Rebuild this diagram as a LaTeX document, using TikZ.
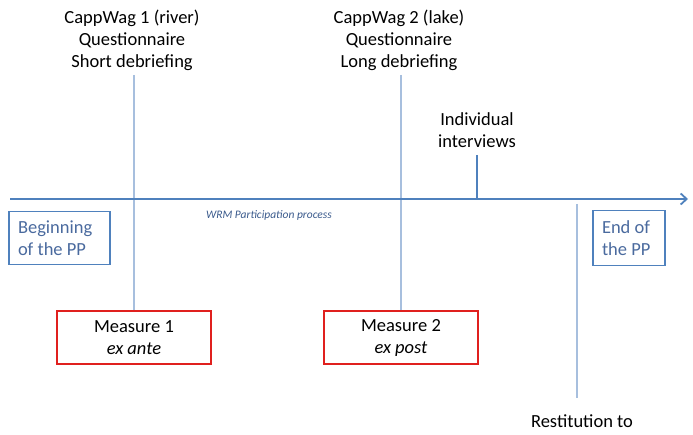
\documentclass[tikz,border=0pt]{standalone}
\usepackage{fontspec}
\setmainfont{Carlito}
\usetikzlibrary{arrows.meta}
\definecolor{axisblue}{HTML}{4F81BD}
\definecolor{lightblue}{HTML}{A7BFDE}
\definecolor{boxtext}{HTML}{4A6A9E}
\definecolor{wrmtext}{HTML}{3A5A8C}
\definecolor{redbox}{HTML}{E0201E}
\begin{document}
\begin{tikzpicture}[x=1pt,y=1pt,
  lbl/.style={align=center,inner sep=0pt,font=\fontsize{18.5}{22}\selectfont},
  bluebox/.style={draw=axisblue,line width=1.6pt,align=flush left,text=boxtext,inner sep=0pt,font=\fontsize{18.5}{22}\selectfont},
  redmeasure/.style={draw=redbox,line width=1.8pt,align=center,inner sep=0pt,minimum width=154pt,minimum height=53pt,font=\fontsize{18.5}{22}\selectfont},
  thinline/.style={draw=lightblue,line width=1.2pt},
  axisline/.style={draw=axisblue,line width=1.8pt}]
\useasboundingbox (0,0) rectangle (693,-435);
% top labels
\node[lbl] (cw1) at (132,-40) {CappWag 1 (river)\\Questionnaire\\Short debriefing};
\node[lbl] (cw2) at (399,-40) {CappWag 2 (lake)\\Questionnaire\\Long debriefing};
\node[lbl] (iv) at (477,-130) {Individual\\interviews};
\node[lbl,anchor=base] (rest) at (582,-427) {Restitution to};
% boxes
\node[bluebox,minimum width=101pt,minimum height=53pt,text width=83pt] (beg) at (59.5,-238) {Beginning\\of the PP};
\node[bluebox,minimum width=72pt,minimum height=55pt,text width=54pt] (end) at (629,-238) {End of\\the PP};
\node[redmeasure] (m1) at (134,-337.5) {Measure 1\\\textit{ex ante}};
\node[redmeasure] (m2) at (401,-337.5) {Measure 2\\\textit{ex post}};
\node[inner sep=0pt,text=wrmtext,font=\fontsize{11.5}{13}\selectfont\itshape] (wrm) at (269,-215) {WRM Participation process};
% coordinates
\coordinate (axL) at (10,-199);
\coordinate (axR) at (688,-199);
\coordinate (t1) at (134,-75);
\coordinate (t2) at (401,-75);
\coordinate (t3) at (477,-155);
\coordinate (a3) at (477,-199);
\coordinate (t4) at (577,-204);
\coordinate (b4) at (577,-398);
% lines
\draw[thinline] (t1) -- (m1.north);
\draw[thinline] (t2) -- (m2.north);
\draw[thinline] (t4) -- (b4);
\draw[axisline] (t3) -- (a3);
\draw[axisline,-{Straight Barb[length=6pt,width=11pt]}] (axL) -- (axR);
\end{tikzpicture}
\end{document}
